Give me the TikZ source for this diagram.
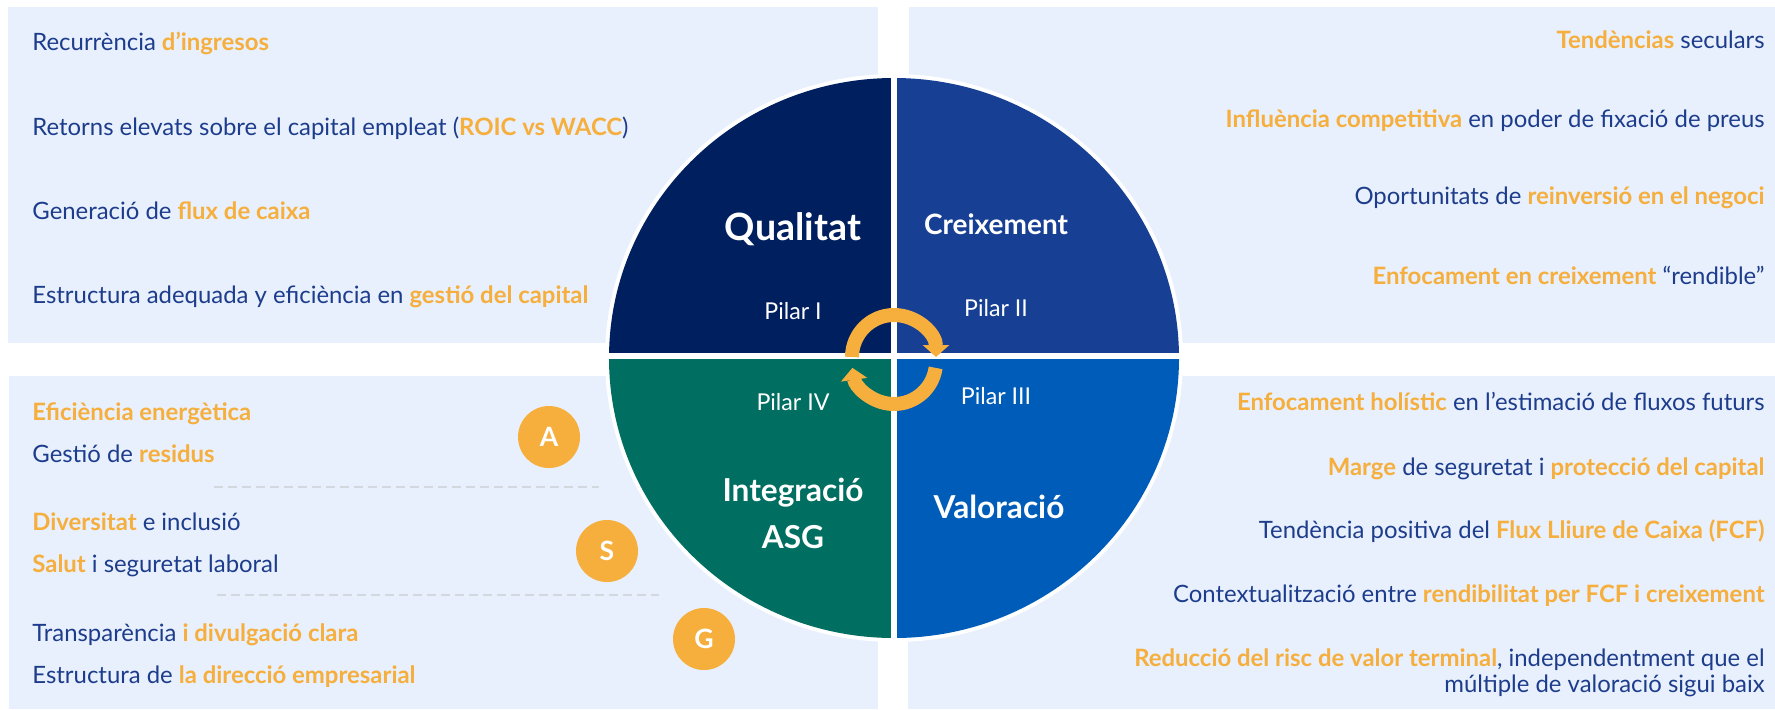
\documentclass[tikz,border=0pt]{standalone}
\usepackage{fontspec}
\setmainfont{Lato}
\usetikzlibrary{arrows.meta}
\pgfdeclarelayer{background}
\pgfsetlayers{background,main}
\definecolor{panelblue}{HTML}{E7F0FC}
\definecolor{textblue}{HTML}{1D3C8C}
\definecolor{accent}{HTML}{F6AE3D}
\definecolor{qualitat}{HTML}{001F5F}
\definecolor{creixement}{HTML}{173F93}
\definecolor{valoracio}{HTML}{005CB9}
\definecolor{asg}{HTML}{006E60}
\definecolor{dashgray}{HTML}{D3D8DF}
\newcommand{\hl}[1]{{\color{accent}\bfseries #1}}
\tikzstyle{panel} = [fill=panelblue]
\tikzstyle{item} = [text=textblue, font=\fontsize{11.95}{13}\selectfont, inner sep=0pt]
\tikzstyle{item left} = [item, anchor=base west]
\tikzstyle{item right} = [item, anchor=base east, align=right]
\tikzstyle{pillar} = [text=white, font=\fontsize{11.6}{14}\selectfont, anchor=base, inner sep=0pt]
\tikzstyle{pillar title} = [text=white, anchor=base, inner sep=0pt, align=center]
\tikzstyle{letter} = [circle, fill=accent, minimum size=31pt, inner sep=0pt, text=white, font=\bfseries\fontsize{13.3}{16}\selectfont]
\tikzstyle{cycle arrow} = [draw=accent, line width=7pt, -{Triangle[width=13pt,length=6pt]}]
\tikzstyle{divider} = [draw=dashgray, line width=1pt, dash pattern=on 4.5pt off 2.5pt]
\def\qualitatItems{{50/{Recurrència \hl{d’ingresos}}}, {135/{Retorns elevats sobre el capital empleat (\hl{ROIC vs WACC})}}, {219/{Generació de \hl{flux de caixa}}}, {303/{Estructura adequada y eficiència en \hl{gestió del capital}}}}
\def\creixementItems{{48/{\hl{Tendèncias} seculars}}, {127/{\hl{Influència competitiva} en poder de fixació de preus}}, {204/{Oportunitats de \hl{reinversió en el negoci}}}, {284/{\hl{Enfocament en creixement} “rendible”}}}
\def\valoracioItems{{410/{\hl{Enfocament holístic} en l’estimació de fluxos futurs}}, {475/{\hl{Marge} de seguretat i \hl{protecció del capital}}}, {538/{Tendència positiva del \hl{Flux Lliure de Caixa (FCF)}}}, {602/{Contextualització entre \hl{rendibilitat per FCF i creixement}}}, {692/{\hl{Reducció del risc de valor terminal}, independentment que el\\múltiple de valoració sigui baix}}}
\def\asgItems{{420/{\hl{Eficiència energètica}}}, {462/{Gestió de \hl{residus}}}, {530/{\hl{Diversitat} e inclusió}}, {572/{\hl{Salut} i seguretat laboral}}, {641/{Transparència \hl{i divulgació clara}}}, {683/{Estructura de \hl{la direcció empresarial}}}}
\def\letters{{(549,437)/A}, {(607,551)/S}, {(704,639)/G}}

\begin{document}
\begin{tikzpicture}[x=0.5pt, y=-0.5pt]
  \useasboundingbox (0,0) rectangle (1775,709);

  \begin{pgfonlayer}{background}
    \fill[white] (0,0) rectangle (1775,709);
    \path[panel] (8,7) rectangle (878,343);
    \path[panel] (909,7) rectangle (1775,343);
    \path[panel] (9,376) rectangle (878,709);
    \path[panel] (908,376) rectangle (1775,709);
  \end{pgfonlayer}

  % panel texts
  \foreach \y/\txt [count=\i] in \qualitatItems
    \node[item left] (qualitat-\i) at (32,\y) {\txt};
  \foreach \y/\txt [count=\i] in \creixementItems
    \node[item right] (creixement-\i) at (1765,\y) {\txt};
  \foreach \y/\txt [count=\i] in \valoracioItems
    \node[item right] (valoracio-\i) at (1765,\y) {\txt};
  \foreach \y/\txt [count=\i] in \asgItems
    \node[item left] (asg-\i) at (32,\y) {\txt};

  \path[divider] (214,487) -- (599,487);
  \path[divider] (217,595) -- (659,595);

  % the four pillars
  \coordinate (c) at (894,358);
  \fill[white] (c) ellipse[x radius=289, y radius=284];
  \foreach \a/\col in {180/qualitat, 270/creixement, 0/valoracio, 90/asg}
    \fill[\col] (c) -- ++(\a:285 and 280) arc[start angle=\a, end angle=\a+90, x radius=285, y radius=280] -- cycle;
  \draw[white, line width=3pt] (894,70) -- (894,646);
  \draw[white, line width=3pt] (600,356) -- (1188,356);

  \node[pillar title, font=\bfseries\fontsize{18.8}{22}\selectfont] (qualitat) at (793,240) {Qualitat};
  \node[pillar title, font=\bfseries\fontsize{14}{17}\selectfont] (creixement) at (996,234) {Creixement};
  \node[pillar title, font=\bfseries\fontsize{15.8}{19}\selectfont] (valoracio) at (999,518) {Valoració};
  \node[pillar title, font=\bfseries\fontsize{15.8}{23.5}\selectfont] (asg) at (793,548) {Integració\\ASG};
  \node[pillar] (pilar-1) at (793,319) {Pilar I};
  \node[pillar] (pilar-2) at (996,316) {Pilar II};
  \node[pillar] (pilar-3) at (996,404) {Pilar III};
  \node[pillar] (pilar-4) at (793,410) {Pilar IV};

  % cycle in the centre
  \coordinate (cycle-top) at (894,357);
  \coordinate (cycle-bottom) at (894,362);
  \draw[cycle arrow] (cycle-top) ++(180:42) arc[start angle=180, end angle=360, radius=42];
  \draw[cycle arrow] (cycle-bottom) ++(8:42) arc[start angle=8, end angle=172, radius=42];

  \foreach \pos/\name in \letters
    \node[letter] (letter-\name) at \pos {\name};

\end{tikzpicture}
\end{document}
